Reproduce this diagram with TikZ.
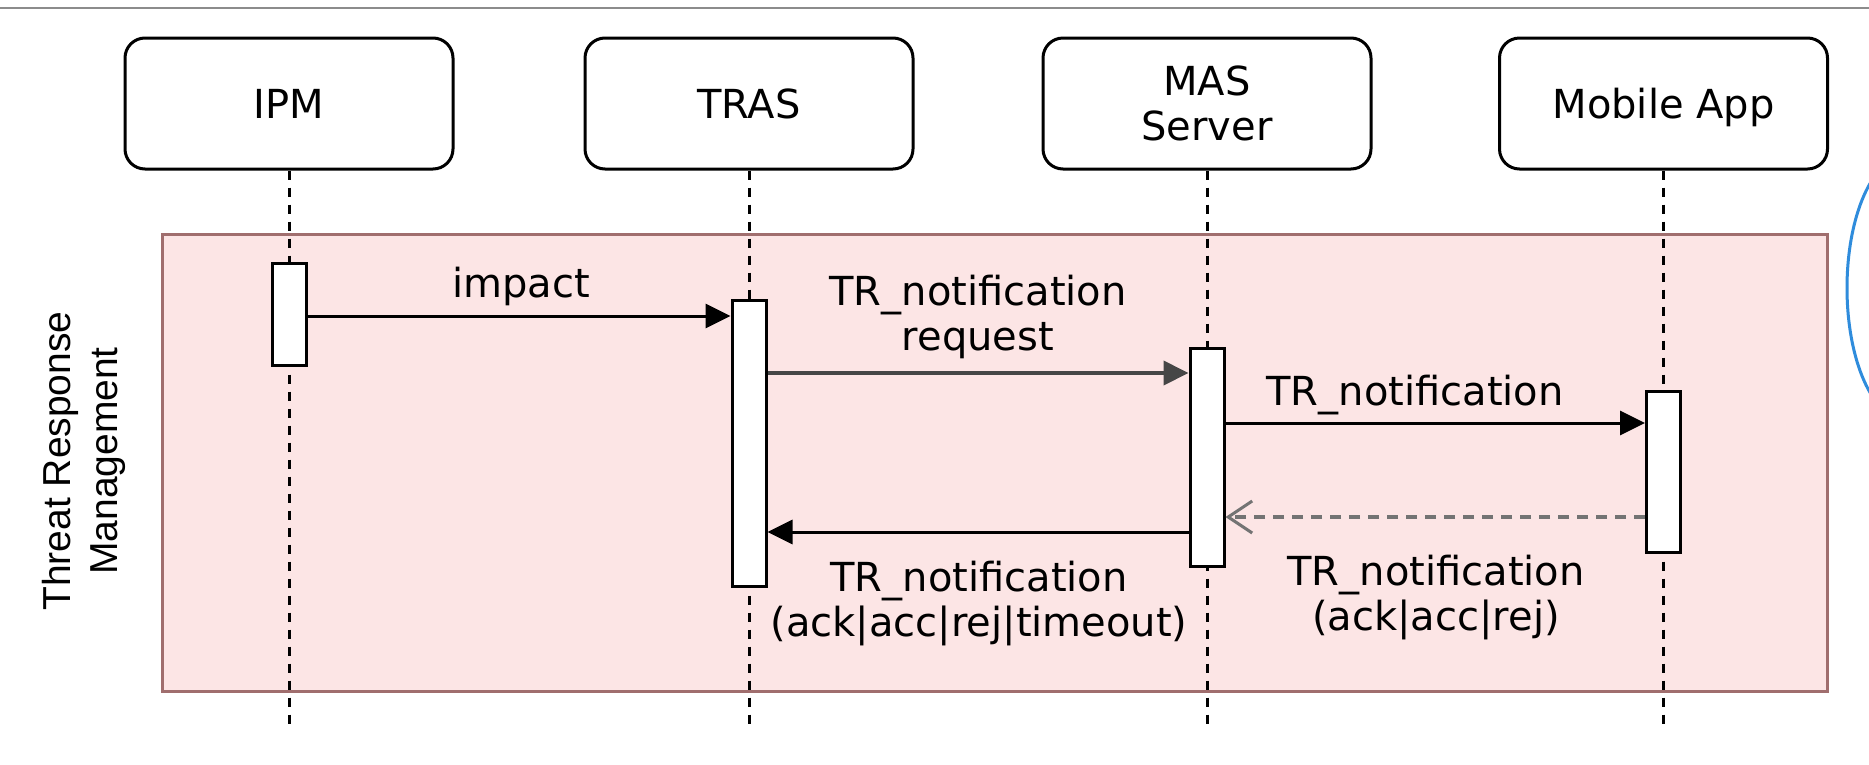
\documentclass[tikz,border=0pt]{standalone}
\usepackage{fontspec}
\setmainfont{DejaVu Sans}
\newfontfamily\labfont{Liberation Sans}
\usetikzlibrary{arrows.meta,calc}
\definecolor{pinkfill}{RGB}{252,229,229}
\definecolor{pinkdraw}{RGB}{160,110,110}
\definecolor{arcblue}{RGB}{47,140,220}
\definecolor{retgray}{RGB}{115,115,115}
\definecolor{topgray}{RGB}{140,140,140}
\begin{document}
\begin{tikzpicture}[x=1pt,y=-1pt,
  actor/.style={draw, line width=3pt, rounded corners=20pt, minimum width=328pt, minimum height=131pt, align=center, font=\fontsize{40}{45}\selectfont, inner sep=0pt},
  lifeline/.style={line width=3pt, dash pattern=on 9pt off 8pt},
  actbar/.style={draw, fill=white, line width=3pt, minimum width=34pt, inner sep=0pt},
  msg/.style={line width=3pt, -{Triangle[length=25pt,width=24pt]}},
  retmsg/.style={line width=3.5pt, retgray, dash pattern=on 11pt off 8pt, -{Straight Barb[length=24pt,width=32pt,line width=3pt]}},
  lbl/.style={font=\fontsize{40}{45}\selectfont, align=center, inner sep=0pt}
]
\useasboundingbox (0,0) rectangle (1869,764);
\fill[white] (0,0) rectangle (1869,764);
\draw[topgray, line width=2pt] (0,8) -- (1869,8);

% blue arc at the right edge
\begin{scope}
  \clip (0,0) rectangle (1869,764);
  \draw[arcblue, line width=3pt] (1905,288) ellipse [x radius=58, y radius=131];
\end{scope}

% frame
\node[draw=pinkdraw, fill=pinkfill, line width=3pt, minimum width=1665pt, minimum height=457pt, inner sep=0pt] (frame) at (994.5,462.5) {};
\node[font=\labfont\fontsize{39}{47}\selectfont, align=center, rotate=90, inner sep=0pt] (framelbl) at (84,461) {Threat Response\\Management};

% actors
\node[actor] (ipm)  at (289,103.5) {IPM};
\node[actor] (tras) at (749,103.5) {TRAS};
\node[actor] (mas)  at (1207,103.5) {MAS\\Server};
\node[actor, text depth=0pt] (mob)  at (1663.5,103.5) {Mobile App};

% lifeline ends
\coordinate (ipmEnd)  at (289,727);
\coordinate (trasEnd) at (749,727);
\coordinate (masEnd)  at (1207,727);
\coordinate (mobEnd)  at (1663.5,727);
\draw[lifeline] (ipm.south)  -- (ipmEnd);
\draw[lifeline] (tras.south) -- (trasEnd);
\draw[lifeline] (mas.south)  -- (masEnd);
\draw[lifeline] (mob.south)  -- (mobEnd);

% activation bars
\node[actbar, minimum height=102pt] (ipmbar)  at (289,314) {};
\node[actbar, minimum height=286pt] (trasbar) at (749,443) {};
\node[actbar, minimum height=218pt] (masbar)  at (1207,457) {};
\node[actbar, minimum height=161pt] (mobbar)  at (1663.5,471.5) {};

% message rows
\coordinate (y1) at (0,316);
\coordinate (y2) at (0,373);
\coordinate (y3) at (0,423);
\coordinate (y4) at (0,517);
\coordinate (y5) at (0,532);

\draw[msg] (ipmbar.east |- y1) -- (trasbar.west |- y1);
\draw[msg, draw={rgb,255:red,70;green,70;blue,70}, line width=4pt] (trasbar.east |- y2) -- (masbar.west |- y2);
\draw[msg] (masbar.east |- y3) -- (mobbar.west |- y3);
\draw[retmsg] (mobbar.west |- y4) -- (masbar.east |- y4);
\draw[msg] (masbar.west |- y5) -- (trasbar.east |- y5);

% labels
\node[lbl, anchor=base] (l1) at (521,297) {impact};
\node[lbl] (l2) at (978,317) {TR\_notification\\request};
\node[lbl, anchor=base] (l3) at (1415,405) {TR\_notification};
\node[lbl] (l4) at (1436,598) {TR\_notification\\(ack|acc|rej)};
\node[lbl] (l5) at (979,604) {TR\_notification\\(ack|acc|rej|timeout)};
\end{tikzpicture}
\end{document}
